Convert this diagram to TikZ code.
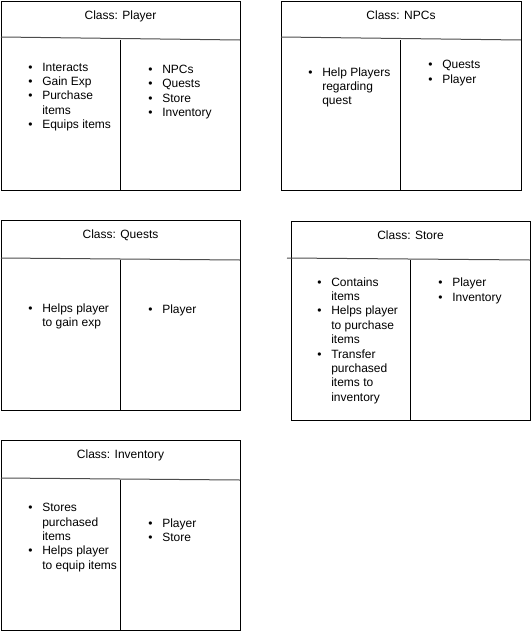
\documentclass[tikz,border=0pt]{standalone}
\usepackage{fontspec}
\setmainfont{Liberation Sans}
\usepackage{tikz}

\newcommand{\bul}{\makebox[10.5pt][l]{\textbullet}}
\newcommand{\classitems}[1]{\begin{tabular}[t]{@{}l@{}l@{}}#1\end{tabular}}

\tikzset{
  classbox/.style={draw=black, line width=0.75pt},
  headline/.style={draw=black!70, line width=0.75pt},
  divider/.style={draw=black, line width=0.75pt},
  classtitle/.style={anchor=base, inner sep=0pt, font=\fontsize{9}{10.8}\selectfont},
  itemlist/.style={anchor=base west, inner sep=0pt, font=\fontsize{9}{10.8}\selectfont}
}

\begin{document}
\begin{tikzpicture}[x=0.75pt,y=-0.75pt]
\useasboundingbox (0,0) rectangle (532,632);

  % Class: Player
  \draw[classbox] (1,1) rectangle (240,190);
  \coordinate (player-hl) at (1,37);
  \coordinate (player-hr) at (240,40);
  \draw[headline] (player-hl) -- (player-hr);
  \coordinate (player-dt) at (120,40);
  \coordinate (player-db) at (120,190);
  \draw[divider] (player-dt) -- (player-db);
  \node[classtitle] (player-title) at (120.5,19) {Class: Player};
  \node[itemlist] (player-resp) at (28,71) {\classitems{%
    \bul & Interacts\\ \bul & Gain Exp\\ \bul & Purchase\\ & items\\ \bul & Equips items}};
  \node[itemlist] (player-coll) at (148,73.3) {\classitems{%
    \bul & NPCs\\ \bul & Quests\\ \bul & Store\\ \bul & Inventory}};

  % Class: NPCs
  \draw[classbox] (281,1) rectangle (521,190);
  \coordinate (npcs-hl) at (281,37);
  \coordinate (npcs-hr) at (521,40);
  \draw[headline] (npcs-hl) -- (npcs-hr);
  \coordinate (npcs-dt) at (400,40);
  \coordinate (npcs-db) at (400,190);
  \draw[divider] (npcs-dt) -- (npcs-db);
  \node[classtitle] (npcs-title) at (401,19) {Class: NPCs};
  \node[itemlist] (npcs-resp) at (308,76) {\classitems{%
    \bul & Help Players\\ & regarding\\ & quest}};
  \node[itemlist] (npcs-coll) at (428,68.6) {\classitems{%
    \bul & Quests\\ \bul & Player}};

  % Class: Quests
  \draw[classbox] (1,220) rectangle (240,410);
  \coordinate (quests-hl) at (1,258);
  \coordinate (quests-hr) at (240,260);
  \draw[headline] (quests-hl) -- (quests-hr);
  \coordinate (quests-dt) at (120,260);
  \coordinate (quests-db) at (120,410);
  \draw[divider] (quests-dt) -- (quests-db);
  \node[classtitle] (quests-title) at (120.5,238.6) {Class: Quests};
  \node[itemlist] (quests-resp) at (28,312) {\classitems{%
    \bul & Helps player\\ & to gain exp}};
  \node[itemlist] (quests-coll) at (148,313.7) {\classitems{%
    \bul & Player}};

  % Class: Store
  \draw[classbox] (291,221) rectangle (530,420);
  \coordinate (store-hl) at (287,258);
  \coordinate (store-hr) at (530,260);
  \draw[headline] (store-hl) -- (store-hr);
  \coordinate (store-dt) at (410,260);
  \coordinate (store-db) at (410,420);
  \draw[divider] (store-dt) -- (store-db);
  \node[classtitle] (store-title) at (410.5,239) {Class: Store};
  \node[itemlist] (store-resp) at (317,286) {\classitems{%
    \bul & Contains\\ & items\\ \bul & Helps player\\ & to purchase\\ & items\\
    \bul & Transfer\\ & purchased\\ & items to\\ & inventory}};
  \node[itemlist] (store-coll) at (438,286.6) {\classitems{%
    \bul & Player\\ \bul & Inventory}};

  % Class: Inventory
  \draw[classbox] (1,440) rectangle (240,630);
  \coordinate (inv-hl) at (1,478);
  \coordinate (inv-hr) at (240,480);
  \draw[headline] (inv-hl) -- (inv-hr);
  \coordinate (inv-dt) at (120,480);
  \coordinate (inv-db) at (120,630);
  \draw[divider] (inv-dt) -- (inv-db);
  \node[classtitle] (inv-title) at (120.5,458.6) {Class: Inventory};
  \node[itemlist] (inv-resp) at (28,511.6) {\classitems{%
    \bul & Stores\\ & purchased\\ & items\\ \bul & Helps player\\ & to equip items}};
  \node[itemlist] (inv-coll) at (148,527) {\classitems{%
    \bul & Player\\ \bul & Store}};

\end{tikzpicture}
\end{document}
